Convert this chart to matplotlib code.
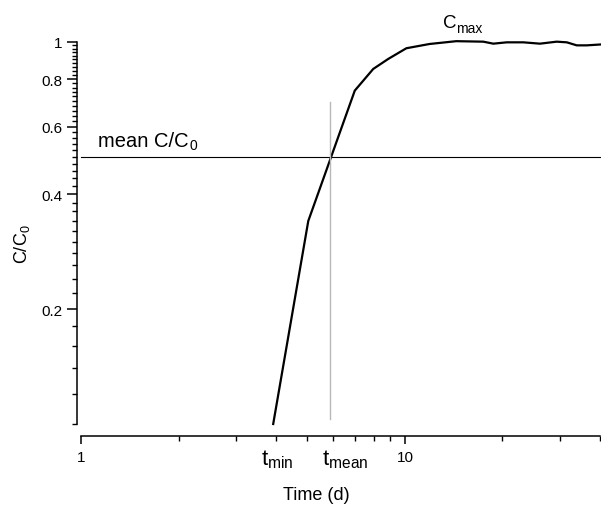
import numpy as np
import matplotlib
matplotlib.use("Agg")
import matplotlib.pyplot as plt
import matplotlib.transforms as mtransforms
from matplotlib.ticker import FixedLocator, NullFormatter, FixedFormatter

plt.rcParams['font.family'] = ['Liberation Sans', 'DejaVu Sans']
plt.rcParams['mathtext.fontset'] = 'custom'
plt.rcParams['mathtext.rm'] = 'Liberation Sans'
plt.rcParams['mathtext.it'] = 'Liberation Sans:italic'

# ---- data ----
time_d = [3.92, 5.03, 7.0, 7.98, 8.88, 10.1, 11.9, 14.4, 17.45, 18.74, 20.6,
          23.2, 26.1, 29.4, 31.6, 33.9, 36.4, 40.0]
c_rel = [0.100, 0.340, 0.746, 0.850, 0.903, 0.963, 0.988, 1.005, 1.002, 0.990,
         0.998, 0.998, 0.990, 1.002, 0.998, 0.980, 0.980, 0.985]
mean_c = 0.5
t_min = 4.0
t_mean = 5.87
tmean_line_y = [0.103, 0.696]
y_major = [0.2, 0.4, 0.6, 0.8, 1.0]
y_major_labels = ['0.2', '0.4', '0.6', '0.8', '1']
x_major = [1, 10]
x_major_labels = ['1', '10']
x_minor = [2, 3, 4, 5, 6, 7, 8, 9, 20, 30, 40]

W, H = 601, 510
fig = plt.figure(figsize=(W / 100, H / 100), dpi=100)
ax = fig.add_axes([81 / W, (H - 425) / H, 519 / W, 382 / H])

ax.set_xscale('log')
ax.set_yscale('log')
ax.set_xlim(1, 40)
ax.set_ylim(0.1, 1.0)

ax.plot(time_d, c_rel, color='black', lw=1.6, clip_on=False, solid_joinstyle='round')
ax.plot([1, 40], [mean_c, mean_c], color='black', lw=0.8, clip_on=False)
ax.plot([t_mean, t_mean], tmean_line_y, color='#b8b8b8', lw=1.0, clip_on=False)

for s in ['top', 'right']:
    ax.spines[s].set_visible(False)
ax.spines['left'].set_position(('outward', 3))
ax.spines['bottom'].set_position(('outward', 8.6))
for s in ['left', 'bottom']:
    ax.spines[s].set_linewidth(1.1)

# y ticks
ax.yaxis.set_major_locator(FixedLocator(y_major))
ax.yaxis.set_major_formatter(FixedFormatter(y_major_labels))
y_minor = [v for v in np.round(np.arange(0.1, 1.0001, 0.02), 2) if v not in y_major]
ax.yaxis.set_minor_locator(FixedLocator(y_minor))
ax.yaxis.set_minor_formatter(NullFormatter())
ax.tick_params(axis='y', which='major', length=7, width=1.1, labelsize=11, pad=3.5)
ax.tick_params(axis='y', which='minor', length=3.8, width=1.0)

# x ticks
ax.xaxis.set_major_locator(FixedLocator(x_major))
ax.xaxis.set_major_formatter(FixedFormatter(x_major_labels))
ax.xaxis.set_minor_locator(FixedLocator(x_minor))
ax.xaxis.set_minor_formatter(NullFormatter())
ax.tick_params(axis='x', which='major', length=5.8, width=1.1, labelsize=11, pad=4.5)
ax.tick_params(axis='x', which='minor', length=3.6, width=1.0)

# t_min / t_mean labels
trans = mtransforms.blended_transform_factory(ax.transData, ax.transAxes)
y_lab = (425 - 465) / 382
off_min = mtransforms.offset_copy(trans, fig=fig, x=-15, y=0, units='dots')
off_mean = mtransforms.offset_copy(trans, fig=fig, x=-8, y=0, units='dots')
ax.text(t_min, y_lab, r'$\mathregular{t_{min}}$', transform=off_min,
        ha='left', va='baseline', fontsize=16)
ax.text(t_mean, y_lab, r'$\mathregular{t_{mean}}$', transform=off_mean,
        ha='left', va='baseline', fontsize=16)

# annotations
t1 = ax.text(1.128, 0.534, 'mean C/C', fontsize=14.5, ha='left', va='baseline')
ax.annotate('0', xy=(1, 0), xycoords=t1, xytext=(0.5, -1.5),
            textcoords='offset points', fontsize=10, ha='left', va='bottom')
t2 = ax.text(13.14, 1.093, 'C', fontsize=13.5, ha='left', va='baseline', clip_on=False)
ax.annotate('max', xy=(1, 0), xycoords=t2, xytext=(-0.5, -2.5),
            textcoords='offset points', fontsize=10, ha='left', va='bottom')

ax.set_ylabel(r'C/C$\mathregular{_0}$', fontsize=13)
ax.yaxis.set_label_coords((32 - 81) / 519, (425 - 244) / 382)
ax.set_xlabel('Time (d)', fontsize=13)
ax.xaxis.set_label_coords((316 - 81) / 519, (425 - 487) / 382)
ax.xaxis.label.set_va('top')

fig.savefig('out.png', dpi=100)
